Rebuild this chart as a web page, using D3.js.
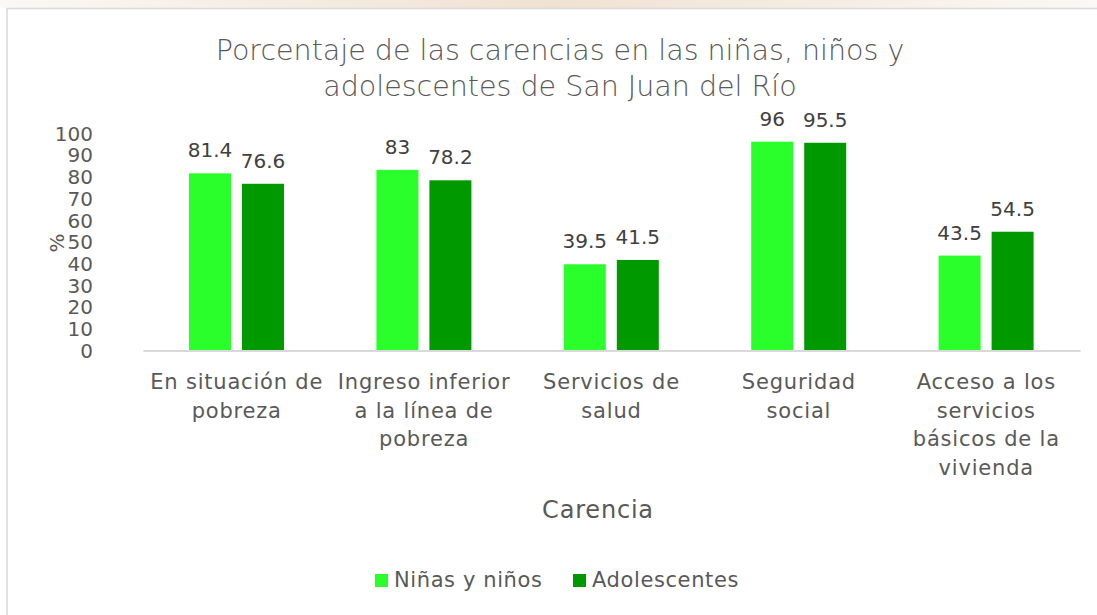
<!DOCTYPE html>
<html>
<head>
<meta charset="utf-8">
<script src="https://cdn.jsdelivr.net/npm/d3@7"></script>
<style>
  body { margin: 0; background: #fff; }
  svg { display: block; font-family: "DejaVu Sans", sans-serif; }
</style>
</head>
<body>
<svg id="chart"></svg>
<script>
const categories = [
  ["En situación de", "pobreza"],
  ["Ingreso inferior", "a la línea de", "pobreza"],
  ["Servicios de", "salud"],
  ["Seguridad", "social"],
  ["Acceso a los", "servicios", "básicos de la", "vivienda"]
];
const seriesNames = ["Niñas y niños", "Adolescentes"];
const ninos = [81.4, 83, 39.5, 96, 43.5];
const adolescentes = [76.6, 78.2, 41.5, 95.5, 54.5];
const yTicks = [0, 10, 20, 30, 40, 50, 60, 70, 80, 90, 100];
const colors = ["#2bff2b", "#009900"];

const W = 1097, H = 615;
const svg = d3.select("#chart").attr("width", W).attr("height", H);

// faint watermark strip above the chart frame
const grad = svg.append("defs").append("linearGradient").attr("id", "wm");
grad.append("stop").attr("offset", "0%").attr("stop-color", "#fbf8f5");
grad.append("stop").attr("offset", "50%").attr("stop-color", "#efe2d2");
grad.append("stop").attr("offset", "100%").attr("stop-color", "#fbf8f5");
svg.append("rect").attr("x", 0).attr("y", 0).attr("width", W).attr("height", 8)
  .attr("fill", "url(#wm)");

// chart frame
svg.append("rect").attr("x", 7).attr("y", 8.5).attr("width", W + 20).attr("height", H + 20)
  .attr("fill", "#fff").attr("stroke", "#d9d9d9").attr("stroke-width", 1.5);

// title
const title = svg.append("text").attr("text-anchor", "middle")
  .attr("fill", "#595959").attr("font-size", 28.5).attr("font-weight", 300);
title.append("tspan").attr("x", 560).attr("y", 60).text("Porcentaje de las carencias en las niñas, niños y");
title.append("tspan").attr("x", 560).attr("y", 96).text("adolescentes de San Juan del Río");

const x0 = 143, x1 = 1080, yBase = 350, yTop = 133;
const x = d3.scaleBand().domain(d3.range(categories.length)).range([x0, x1]);
const bw = x.bandwidth();
const xs = d3.scaleBand().domain([0, 1]).range([bw * 0.2455, bw * 0.7524]).paddingInner(0.2075);
const y = d3.scaleLinear().domain([0, 100]).range([yBase, yTop]);

// y axis
const yAxis = svg.append("g").attr("transform", `translate(${x0 - 50},0)`)
  .call(d3.axisLeft(y).tickValues(yTicks).tickSize(0).tickPadding(0));
yAxis.select(".domain").remove();
yAxis.selectAll("text").attr("fill", "#595959").attr("font-size", 20)
  .attr("font-family", "DejaVu Sans, sans-serif").attr("dy", "0.36em");

svg.append("text").attr("transform", "translate(64,243) rotate(-90)")
  .attr("text-anchor", "middle").attr("fill", "#595959").attr("font-size", 20).text("%");

// x axis line
const xAxis = svg.append("g").attr("transform", `translate(0,${yBase + 0.5})`)
  .call(d3.axisBottom(x).tickSize(0).tickFormat(""));
xAxis.select(".domain").attr("stroke", "#d9d9d9").attr("stroke-width", 2);

// category labels
const labels = svg.append("g").selectAll("text").data(categories).join("text")
  .attr("text-anchor", "middle").attr("fill", "#595959").attr("font-size", 21)
  .attr("letter-spacing", 0.8);
labels.each(function (lines, i) {
  d3.select(this).selectAll("tspan").data(lines).join("tspan")
    .attr("x", x(i) + bw / 2)
    .attr("y", (d, j) => 389 + j * 28.7)
    .text(d => d);
});

// bars
const series = [ninos, adolescentes];
series.forEach((vals, s) => {
  const g = svg.append("g");
  g.selectAll("rect").data(vals).join("rect")
    .attr("x", (d, i) => x(i) + xs(s))
    .attr("y", d => y(d))
    .attr("width", xs.bandwidth())
    .attr("height", d => yBase - y(d))
    .attr("fill", colors[s]);
  g.selectAll("text").data(vals).join("text")
    .attr("x", (d, i) => x(i) + xs(s) + xs.bandwidth() / 2)
    .attr("y", d => y(d) - 16)
    .attr("text-anchor", "middle").attr("fill", "#404040").attr("font-size", 20)
    .text(d => d);
});

// axis title
svg.append("text").attr("x", 598).attr("y", 518).attr("text-anchor", "middle")
  .attr("fill", "#595959").attr("font-size", 24).attr("letter-spacing", 0.8).text("Carencia");

// legend
const legendX = [375, 573];
const legend = svg.append("g").selectAll("g").data(seriesNames).join("g")
  .attr("transform", (d, i) => `translate(${legendX[i]},574)`);
legend.append("rect").attr("width", 13).attr("height", 13).attr("fill", (d, i) => colors[i]);
legend.append("text").attr("x", 19).attr("y", 13).attr("fill", "#595959").attr("font-size", 21)
  .attr("letter-spacing", 0.6).text(d => d);
</script>
</body>
</html>
